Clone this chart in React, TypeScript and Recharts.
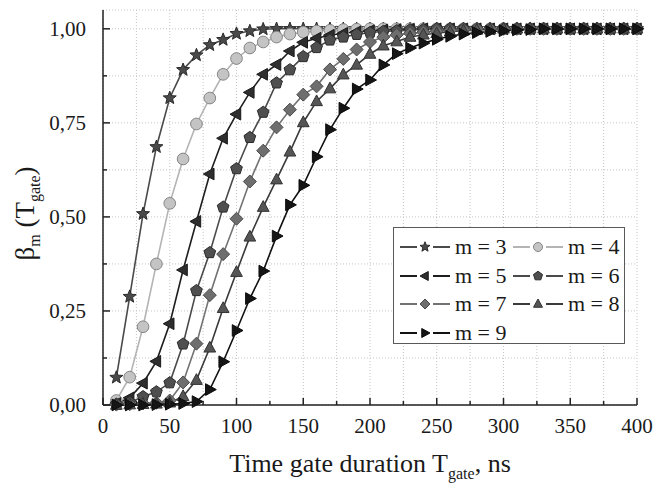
import React from "react";
import { LineChart, Line, XAxis, YAxis, CartesianGrid, Legend } from "recharts";

const FONT = '"Liberation Serif", "Times New Roman", serif';

// gate duration, ns
const tGate = [
  10, 20, 30, 40, 50, 60, 70, 80, 90, 100, 110, 120, 130, 140, 150, 160, 170, 180, 190, 200,
  210, 220, 230, 240, 250, 260, 270, 280, 290, 300, 310, 320, 330, 340, 350, 360, 370, 380, 390, 400,
];

const m3 = [
  0.073, 0.288, 0.508, 0.686, 0.816, 0.891, 0.93, 0.957, 0.971, 0.987, 0.994, 0.999, 1, 1, 1, 1, 1, 1, 1, 1,
  1, 1, 1, 1, 1, 1, 1, 1, 1, 1, 1, 1, 1, 1, 1, 1, 1, 1, 1, 1,
];
const m4 = [
  0.012, 0.074, 0.208, 0.375, 0.536, 0.654, 0.747, 0.816, 0.879, 0.921, 0.949, 0.965, 0.978, 0.986, 0.991,
  0.994, 0.996, 0.998, 0.999, 1, 1, 1, 1, 1, 1, 1, 1, 1, 1, 1, 1, 1, 1, 1, 1, 1, 1, 1, 1, 1,
];
const m5 = [
  0.004, 0.019, 0.058, 0.116, 0.216, 0.359, 0.488, 0.614, 0.709, 0.773, 0.831, 0.879, 0.905, 0.941, 0.964,
  0.975, 0.983, 0.988, 0.992, 0.995, 0.997, 0.998, 0.999, 1, 1, 1, 1, 1, 1, 1, 1, 1, 1, 1, 1, 1, 1, 1, 1, 1,
];
const m6 = [
  0.002, 0.007, 0.022, 0.035, 0.059, 0.162, 0.304, 0.405, 0.526, 0.628, 0.711, 0.778, 0.856, 0.891, 0.926,
  0.95, 0.97, 0.978, 0.985, 0.99, 0.993, 0.995, 0.997, 0.998, 1, 1, 1, 1, 1, 1, 1, 1, 1, 1, 1, 1, 1, 1, 1, 1,
];
const m7 = [
  0.001, 0.002, 0.004, 0.006, 0.012, 0.06, 0.163, 0.292, 0.401, 0.495, 0.594, 0.676, 0.738, 0.785, 0.825,
  0.847, 0.892, 0.92, 0.945, 0.965, 0.978, 0.984, 0.988, 0.991, 0.994, 0.996, 0.998, 1, 1, 1, 1, 1, 1, 1, 1,
  1, 1, 1, 1, 1,
];
const m8 = [
  0, 0.001, 0.002, 0.003, 0.006, 0.023, 0.066, 0.152, 0.257, 0.353, 0.447, 0.526, 0.599, 0.673, 0.751, 0.807,
  0.841, 0.878, 0.904, 0.933, 0.955, 0.966, 0.978, 0.984, 0.988, 0.992, 0.995, 0.997, 0.998, 1, 1, 1, 1, 1,
  1, 1, 1, 1, 1, 1,
];
const m9 = [
  0, 0, 0, 0.001, 0.002, 0.004, 0.009, 0.041, 0.115, 0.198, 0.283, 0.356, 0.449, 0.532, 0.584, 0.66, 0.732,
  0.789, 0.84, 0.864, 0.904, 0.934, 0.949, 0.962, 0.972, 0.98, 0.986, 0.99, 0.993, 0.995, 0.997, 0.998, 1, 1,
  1, 1, 1, 1, 1, 1,
];

const xTicks = [0, 25, 50, 75, 100, 125, 150, 175, 200, 225, 250, 275, 300, 325, 350, 375, 400];
const yTicks = [0, 0.125, 0.25, 0.375, 0.5, 0.625, 0.75, 0.875, 1];

type Shape = "star" | "circle" | "left" | "pentagon" | "diamond" | "up" | "right";

const series: { key: string; label: string; values: number[]; shape: Shape; line: string; fill: string; edge: string }[] = [
  { key: "m3", label: "m = 3", values: m3, shape: "star", line: "#4a4a4a", fill: "#4a4a4a", edge: "#2a2a2a" },
  { key: "m4", label: "m = 4", values: m4, shape: "circle", line: "#b4b4b4", fill: "#c4c4c4", edge: "#858585" },
  { key: "m5", label: "m = 5", values: m5, shape: "left", line: "#1e1e1e", fill: "#2e2e2e", edge: "#1a1a1a" },
  { key: "m6", label: "m = 6", values: m6, shape: "pentagon", line: "#4a4a4a", fill: "#4f4f4f", edge: "#2a2a2a" },
  { key: "m7", label: "m = 7", values: m7, shape: "diamond", line: "#727272", fill: "#6e6e6e", edge: "#4a4a4a" },
  { key: "m8", label: "m = 8", values: m8, shape: "up", line: "#3a3a3a", fill: "#555555", edge: "#333333" },
  { key: "m9", label: "m = 9", values: m9, shape: "right", line: "#111111", fill: "#151515", edge: "#0a0a0a" },
];

const rows = tGate.map((t, i) => {
  const row: Record<string, number> = { t };
  series.forEach((s) => (row[s.key] = s.values[i]));
  return row;
});

const fmt = (v: number) => v.toFixed(2).replace(".", ",");

function poly(pts: number[][]) {
  return pts.map((p) => p.join(",")).join(" ");
}

function Marker({ shape, cx, cy, r, fill, edge }: { shape: Shape; cx: number; cy: number; r: number; fill: string; edge: string }) {
  const common = { fill, stroke: edge, strokeWidth: 1 };
  if (shape === "circle") return <circle cx={cx} cy={cy} r={r * 0.9} {...common} />;
  if (shape === "star") {
    const pts: number[][] = [];
    for (let k = 0; k < 10; k++) {
      const a = -Math.PI / 2 + (k * Math.PI) / 5;
      const rr = k % 2 === 0 ? r * 1.05 : r * 0.45;
      pts.push([cx + rr * Math.cos(a), cy + rr * Math.sin(a)]);
    }
    return <polygon points={poly(pts)} {...common} />;
  }
  if (shape === "pentagon") {
    const pts: number[][] = [];
    for (let k = 0; k < 5; k++) {
      const a = -Math.PI / 2 + (k * 2 * Math.PI) / 5;
      pts.push([cx + r * 0.95 * Math.cos(a), cy + r * 0.95 * Math.sin(a)]);
    }
    return <polygon points={poly(pts)} {...common} />;
  }
  if (shape === "diamond")
    return <polygon points={poly([[cx, cy - r], [cx + r, cy], [cx, cy + r], [cx - r, cy]])} {...common} />;
  if (shape === "up")
    return <polygon points={poly([[cx, cy - r], [cx + r * 0.9, cy + r * 0.65], [cx - r * 0.9, cy + r * 0.65]])} {...common} />;
  if (shape === "left")
    return <polygon points={poly([[cx - r, cy], [cx + r * 0.65, cy - r * 0.9], [cx + r * 0.65, cy + r * 0.9]])} {...common} />;
  return <polygon points={poly([[cx + r, cy], [cx - r * 0.65, cy - r * 0.9], [cx - r * 0.65, cy + r * 0.9]])} {...common} />;
}

// eslint-disable-next-line @typescript-eslint/no-explicit-any
function XTick({ x, y, payload }: any) {
  const major = payload.value % 50 === 0;
  return (
    <g>
      <line x1={x} x2={x} y1={y} y2={y - (major ? 7 : 4)} stroke="#222" strokeWidth={1.5} />
      {major && (
        <text x={x} y={y + 28} textAnchor="middle" fontFamily={FONT} fontSize={21} fill="#1a1a1a">
          {payload.value}
        </text>
      )}
    </g>
  );
}

// eslint-disable-next-line @typescript-eslint/no-explicit-any
function TopTick({ x, y, payload }: any) {
  const major = payload.value % 50 === 0;
  return <line x1={x} x2={x} y1={y} y2={y + (major ? 7 : 4)} stroke="#222" strokeWidth={1.5} />;
}

// eslint-disable-next-line @typescript-eslint/no-explicit-any
function YTick({ x, y, payload }: any) {
  const major = Math.round(payload.value * 1000) % 250 === 0;
  return (
    <g>
      <line x1={x} x2={x + (major ? 7 : 4)} y1={y} y2={y} stroke="#222" strokeWidth={1.5} />
      {major && (
        <text x={x - 17} y={y + 7} textAnchor="end" fontFamily={FONT} fontSize={21} fill="#1a1a1a">
          {fmt(payload.value)}
        </text>
      )}
    </g>
  );
}

// eslint-disable-next-line @typescript-eslint/no-explicit-any
function RightTick({ x, y, payload }: any) {
  const major = Math.round(payload.value * 1000) % 250 === 0;
  return <line x1={x} x2={x - (major ? 7 : 4)} y1={y} y2={y} stroke="#222" strokeWidth={1.5} />;
}

// eslint-disable-next-line @typescript-eslint/no-explicit-any
function XTitle({ viewBox }: any) {
  const cx = viewBox.x + viewBox.width / 2;
  return (
    <text x={cx} y={viewBox.y + 67} textAnchor="middle" fontFamily={FONT} fontSize={26} fill="#1a1a1a">
      Time gate duration T
      <tspan fontSize={16} dy={7}>gate</tspan>
      <tspan dy={-7}>, ns</tspan>
    </text>
  );
}

// eslint-disable-next-line @typescript-eslint/no-explicit-any
function YTitle({ viewBox }: any) {
  const cy = viewBox.y + viewBox.height / 2 + 6;
  const cx = 34;
  return (
    <text
      x={cx}
      y={cy}
      transform={`rotate(-90 ${cx} ${cy})`}
      textAnchor="middle"
      fontFamily={FONT}
      fontSize={27}
      fill="#1a1a1a"
    >
      β<tspan fontSize={16} dy={6}>m</tspan>
      <tspan dy={-6}> (T</tspan>
      <tspan fontSize={16} dy={6}>gate</tspan>
      <tspan dy={-6}>)</tspan>
    </text>
  );
}

function LegendBox() {
  return (
    <div
      style={{
        width: 232,
        height: 117,
        border: "1.5px solid #5a5a5a",
        boxSizing: "border-box",
        background: "#fff",
        position: "relative",
        fontFamily: FONT,
        fontSize: 22,
        color: "#1a1a1a",
      }}
    >
      {series.map((s, i) => {
        const col = i % 2;
        const row = Math.floor(i / 2);
        return (
          <div
            key={s.key}
            style={{
              position: "absolute",
              left: col ? 119 : 6,
              top: 5 + row * 28.5,
              height: 28,
              display: "flex",
              alignItems: "center",
              whiteSpace: "nowrap",
            }}
          >
            <svg width={50} height={20}>
              <line x1={0} x2={17} y1={10} y2={10} stroke={s.line} strokeWidth={2} />
              <line x1={33} x2={50} y1={10} y2={10} stroke={s.line} strokeWidth={2} />
              <Marker shape={s.shape} cx={25} cy={10} r={5} fill={s.fill} edge={s.edge} />
            </svg>
            <span style={{ marginLeft: 5 }}>{s.label}</span>
          </div>
        );
      })}
    </div>
  );
}

const axisLine = { stroke: "#222", strokeWidth: 1.5 };

export default function App() {
  return (
    <div style={{ position: "absolute", left: 0, top: 0, background: "#fff" }}>
      <LineChart width={658} height={485} data={rows} margin={{ top: 10, right: 21, bottom: 0, left: 0 }}>
        <CartesianGrid stroke="#c4c4c4" strokeDasharray="1 2" />
        <XAxis
          dataKey="t"
          type="number"
          domain={[0, 400]}
          ticks={xTicks}
          interval={0}
          height={80}
          tickSize={0}
          tickMargin={0}
          tick={<XTick />}
          axisLine={axisLine}
          label={{ content: XTitle }}
        />
        <XAxis
          xAxisId="top"
          orientation="top"
          type="number"
          domain={[0, 400]}
          ticks={xTicks}
          interval={0}
          height={0}
          tickSize={0}
          tickMargin={0}
          tick={<TopTick />}
          axisLine={axisLine}
        />
        <YAxis
          type="number"
          domain={[0, 1.05]}
          ticks={yTicks}
          interval={0}
          width={103}
          tickSize={0}
          tickMargin={0}
          tick={<YTick />}
          axisLine={axisLine}
          label={{ content: YTitle }}
        />
        <YAxis
          yAxisId="right"
          orientation="right"
          type="number"
          domain={[0, 1.05]}
          ticks={yTicks}
          interval={0}
          width={0}
          tickSize={0}
          tickMargin={0}
          tick={<RightTick />}
          axisLine={axisLine}
        />
        <Legend
          layout="horizontal"
          verticalAlign="middle"
          content={() => <LegendBox />}
          wrapperStyle={{ left: 393, top: 227, width: 232, height: 117 }}
        />
        {series.map((s) => (
          <Line
            key={s.key}
            type="linear"
            dataKey={s.key}
            stroke={s.line}
            strokeWidth={1.6}
            isAnimationActive={false}
            activeDot={false}
            // eslint-disable-next-line @typescript-eslint/no-explicit-any
            dot={(p: any) => (
              <Marker key={`${s.key}-${p.index}`} shape={s.shape} cx={p.cx} cy={p.cy} r={6.5} fill={s.fill} edge={s.edge} />
            )}
          />
        ))}
      </LineChart>
    </div>
  );
}
